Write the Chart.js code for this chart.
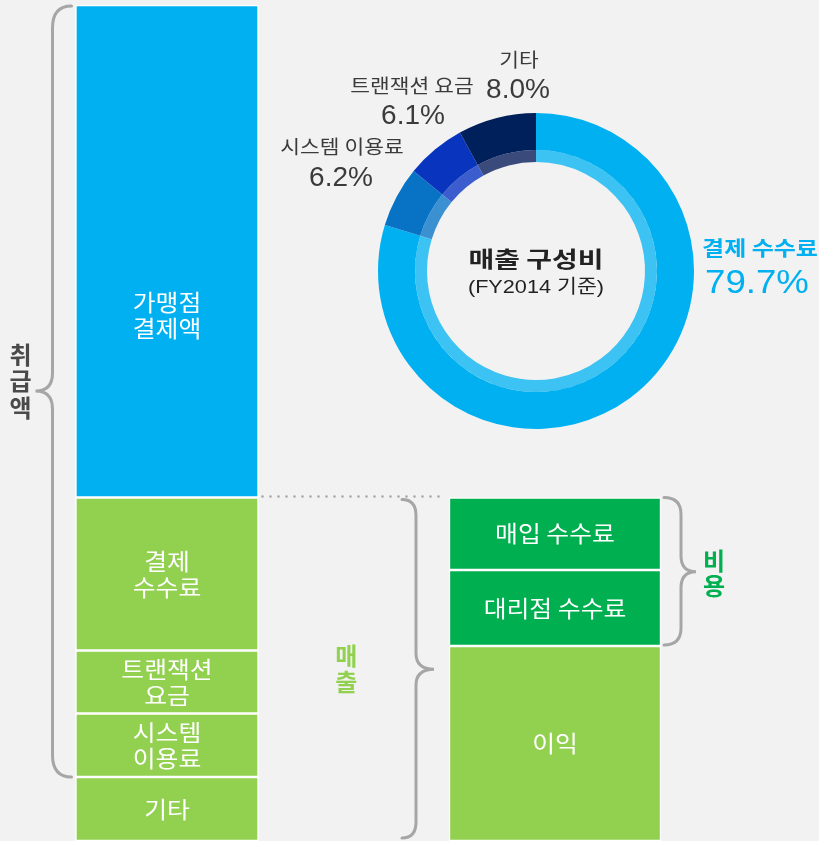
<!DOCTYPE html>
<html>
<head>
<meta charset="utf-8">
<script src="https://cdn.jsdelivr.net/npm/chart.js@4.4.1/dist/chart.umd.min.js"></script>
<style>
  html, body { margin: 0; padding: 0; background: #f2f2f2; }
  #wrap { position: relative; width: 819px; height: 841px; overflow: hidden; }
  canvas { position: absolute; left: 0; top: 0; }
</style>
</head>
<body>
<div id="wrap">
  <canvas id="bars" width="819" height="841"></canvas>
  <canvas id="donut" width="819" height="841"></canvas>
</div>
<script>
// ---------- data ----------
const barCategories = ['취급액', '매출'];
const handledNames  = ['가맹점 결제액', '결제 수수료', '트랜잭션 요금', '시스템 이용료', '기타'];
const handledText   = ['가맹점\n결제액', '결제\n수수료', '트랜잭션\n요금', '시스템\n이용료', '기타'];
const handledValues = [492.5, 153, 63, 63.5, 64];
const revenueNames  = ['매입 수수료', '대리점 수수료', '이익'];
const revenueValues = [72.5, 76, 195];
const costLabel     = '비용';
const donutLabels   = ['결제 수수료', '시스템 이용료', '트랜잭션 요금', '기타'];
const donutValues   = [79.7, 6.2, 6.1, 8.0];
const donutTitle    = ['매출 구성비', '(FY2014 기준)'];

// ---------- styles ----------
const FONT = '"Liberation Sans", "Noto Sans CJK KR", sans-serif';
const KFONT = '"Noto Sans CJK KR", "Liberation Sans", sans-serif';
const handledColors = ['#00B0F0', '#92D050', '#92D050', '#92D050', '#92D050'];
const revenueColors = ['#00B050', '#00B050', '#92D050'];
const donutColors   = ['#00B0F0', '#0873C4', '#0934BE', '#00205B'];
const donutBand     = ['#3CC3F3', '#3A90D1', '#3C5DCD', '#3A4A7B'];
const BRACE = '#a6a6a6';

const common = { borderColor: '#ffffff', borderWidth: 1.5, borderSkipped: false, clip: false };
const datasets = [];
handledNames.forEach((n, i) => {
  datasets.push(Object.assign({}, common, {
    label: n, data: [handledValues[i], null], backgroundColor: handledColors[i],
    barThickness: 183, text: handledText[i], col: 0, anchor: i === 0 ? 0.63 : 0.5
  }));
});
datasets.push({ label: '', data: [null, handledValues[0]], backgroundColor: 'rgba(0,0,0,0)',
  borderWidth: 0, barThickness: 212, clip: false, spacer: true });
revenueNames.forEach((n, i) => {
  datasets.push(Object.assign({}, common, {
    label: n, data: [null, revenueValues[i]], backgroundColor: revenueColors[i],
    barThickness: 212, text: n, col: 1, anchor: 0.5
  }));
});
const total = handledValues.reduce((a, b) => a + b, 0);

// draw horizontally-stretched centred text
function stext(ctx, str, x, y, sx) {
  ctx.save();
  ctx.translate(x, y);
  ctx.scale(sx, 1);
  ctx.textAlign = 'center'; ctx.textBaseline = 'middle';
  ctx.fillText(str, 0, 0);
  ctx.restore();
}
function brace(ctx, xEnd, xLine, xTip, yTop, yBot, yTip, r, rt) {
  ctx.beginPath();
  ctx.moveTo(xEnd, yTop);
  ctx.quadraticCurveTo(xLine, yTop, xLine, yTop + r);
  ctx.lineTo(xLine, yTip - rt);
  ctx.quadraticCurveTo(xLine, yTip, xTip, yTip);
  ctx.quadraticCurveTo(xLine, yTip, xLine, yTip + rt);
  ctx.lineTo(xLine, yBot - r);
  ctx.quadraticCurveTo(xLine, yBot, xEnd, yBot);
  ctx.strokeStyle = BRACE;
  ctx.lineWidth = 3;
  ctx.lineCap = 'round';
  ctx.stroke();
}
function vtext(ctx, str, x, cy, step, font, color) {
  ctx.font = font; ctx.fillStyle = color;
  const chars = Array.from(str);
  const y0 = cy - (chars.length - 1) * step / 2;
  chars.forEach((c, k) => stext(ctx, c, x, y0 + k * step, 1));
}

const barDecor = {
  id: 'barDecor',
  afterDatasetsDraw(chart) {
    const ctx = chart.ctx, ys = chart.scales.y, area = chart.chartArea;
    ctx.save();
    // segment labels
    chart.data.datasets.forEach((ds, i) => {
      if (!ds.text) return;
      const el = chart.getDatasetMeta(i).data[ds.col];
      const top = Math.max(Math.min(el.y, el.base), area.top);
      const bot = Math.min(Math.max(el.y, el.base), area.bottom);
      const cy = top + (bot - top) * ds.anchor;
      const lines = ds.text.split('\n');
      const lh = 26;
      ctx.font = '23px ' + KFONT; ctx.fillStyle = '#ffffff';
      lines.forEach((l, k) => stext(ctx, l, el.x, cy - (lines.length - 1) * lh / 2 + k * lh, 1.08));
    });
    const L = chart.getDatasetMeta(0).data[0];
    const R = chart.getDatasetMeta(handledNames.length + 1).data[1];
    const lLeft = L.x - L.width / 2, lRight = L.x + L.width / 2;
    const rLeft = R.x - R.width / 2, rRight = R.x + R.width / 2;
    const yStart = ys.getPixelForValue(0);
    const ySplit = ys.getPixelForValue(handledValues[0]);
    const yHandledEnd = ys.getPixelForValue(handledValues.slice(0, 4).reduce((a, b) => a + b, 0));
    const yEnd = ys.getPixelForValue(total);
    const yCostEnd = ys.getPixelForValue(handledValues[0] + revenueValues[0] + revenueValues[1]);

    // dotted connector
    ctx.beginPath();
    ctx.setLineDash([0, 8]);
    ctx.lineCap = 'round';
    ctx.lineWidth = 2.6;
    ctx.strokeStyle = '#a6a6a6';
    ctx.moveTo(lRight + 4, ySplit - 1);
    ctx.lineTo(rLeft - 6, ySplit - 1);
    ctx.stroke();
    ctx.setLineDash([]);

    // 취급액 brace
    const tip1 = (yStart + yHandledEnd) / 2;
    brace(ctx, lLeft - 4, lLeft - 23, lLeft - 40, yStart + 1, yHandledEnd, tip1, 22, 18);
    vtext(ctx, barCategories[0], lLeft - 55, tip1 - 10, 26.5, 'bold 24px ' + KFONT, '#4a4a4a');

    // 매출 brace
    const tip2 = (ySplit + yEnd) / 2;
    brace(ctx, rLeft - 47, rLeft - 33, rLeft - 15, ySplit + 2, yEnd - 3, tip2, 16, 16);
    vtext(ctx, barCategories[1], (lRight + rLeft - 15) / 2, tip2, 26, 'bold 24px ' + KFONT, '#92D050');

    // 비용 brace
    const tip3 = (ySplit + yCostEnd) / 2;
    brace(ctx, rRight + 3, rRight + 20, rRight + 35, ySplit, yCostEnd - 1, tip3, 17, 16);
    vtext(ctx, costLabel, rRight + 53, tip3 + 2, 25, 'bold 24px ' + KFONT, '#00B050');
    ctx.restore();
  }
};

new Chart(document.getElementById('bars'), {
  type: 'bar',
  data: { labels: barCategories, datasets },
  options: {
    responsive: false, maintainAspectRatio: false, animation: false,
    layout: { padding: { left: 167, right: 264, top: 5, bottom: 0 } },
    scales: {
      x: { stacked: true, offset: false, display: false },
      y: { stacked: true, reverse: true, min: 0, max: total, display: false }
    },
    plugins: { legend: { display: false }, tooltip: { enabled: false } }
  },
  plugins: [barDecor]
});

// ---------- doughnut ----------
const labelPos = [
  { nx: 224, ny: -23, px: 221, py: 13, hi: true },
  { nx: -194, ny: -124, px: -195, py: -93 },
  { nx: -124, ny: -185, px: -123, py: -155 },
  { nx: -17, ny: -211, px: -18, py: -181 }
];
const donutDecor = {
  id: 'donutDecor',
  afterDraw(chart) {
    const ctx = chart.ctx;
    const arc = chart.getDatasetMeta(0).data[0];
    const cx = arc.x, cy = arc.y;
    ctx.save();
    donutLabels.forEach((n, i) => {
      const p = labelPos[i];
      ctx.fillStyle = p.hi ? '#00B0F0' : '#3b3b3b';
      ctx.font = (p.hi ? 'bold 20px ' : '19px ') + KFONT;
      stext(ctx, n, cx + p.nx, cy + p.ny, p.hi ? 1.2 : 1.13);
      ctx.font = (p.hi ? '33px ' : '28px ') + FONT;
      stext(ctx, donutValues[i].toFixed(1) + '%', cx + p.px, cy + p.py, p.hi ? 1.11 : 1.0);
    });
    ctx.fillStyle = '#222222';
    ctx.font = 'bold 22px ' + KFONT;
    stext(ctx, donutTitle[0], cx, cy - 12, 1.27);
    ctx.font = '19px ' + FONT;
    stext(ctx, donutTitle[1], cx, cy + 17, 1.14);
    ctx.restore();
  }
};
new Chart(document.getElementById('donut'), {
  type: 'doughnut',
  data: {
    labels: donutLabels,
    datasets: [
      { data: donutValues, backgroundColor: donutColors, borderWidth: 0, weight: 37 },
      { data: donutValues, backgroundColor: donutBand, borderWidth: 0, weight: 12 }
    ]
  },
  options: {
    responsive: false, maintainAspectRatio: false, animation: false,
    cutout: '69%',
    layout: { padding: { left: 378, right: 125, top: 113, bottom: 412 } },
    plugins: { legend: { display: false }, tooltip: { enabled: false } }
  },
  plugins: [donutDecor]
});
</script>
</body>
</html>
